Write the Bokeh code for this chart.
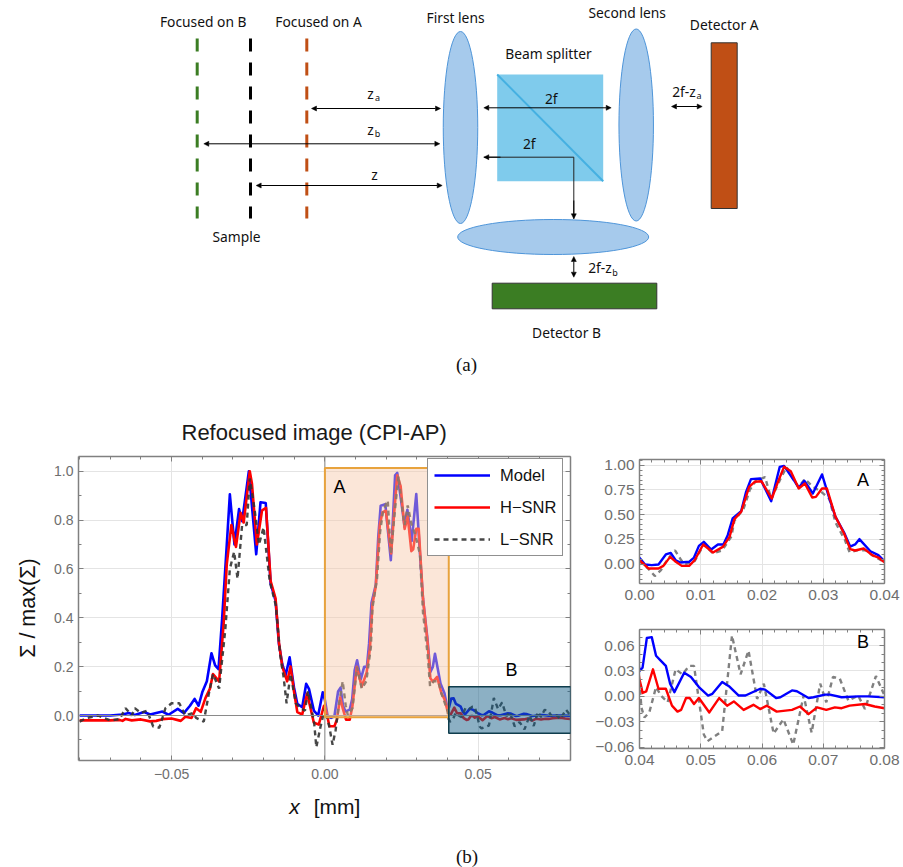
import math
from bokeh.plotting import figure
from bokeh.layouts import column, row
from bokeh.embed import file_html
from bokeh.resources import INLINE
from bokeh.core.properties import value
from bokeh.models import (Arrow, NormalHead, BoxAnnotation, Span, Label, Legend, LegendItem,
                          LinearAxis, FixedTicker, CustomJSTickFormatter)

# ---------- series ----------
model_x = [-0.08,-0.07,-0.066,-0.064,-0.062,-0.059,-0.057,-0.053,-0.051,-0.048,-0.046,-0.044,-0.0425,-0.0412,-0.04,-0.0385,-0.037,-0.0358,-0.0347,-0.0335,-0.032,-0.031,-0.0295,-0.028,-0.027,-0.0248,-0.0224,-0.021,-0.0193,-0.0177,-0.0161,-0.015,-0.0139,-0.0128,-0.0115,-0.0101,-0.009,-0.0074,-0.0061,-0.0052,-0.0036,-0.0022,-0.0007,
    0.0,0.0009,0.002,0.0031,0.0043,0.0051,0.0059,0.0067,0.0081,0.0089,0.0097,0.0105,0.0117,0.0128,0.0137,0.0144,0.0152,0.0166,0.0174,0.0182,0.0197,0.0215,0.0229,0.0236,0.0252,0.026,0.0269,0.0283,0.0298,0.031,0.032,0.0334,0.0344,0.0352,0.0359,0.0377,0.039,0.04,
    0.0405,0.0412,0.042,0.0427,0.0435,0.0443,0.045,0.0457,0.0473,0.0484,0.0497,0.0512,0.0519,0.0535,0.0546,0.0562,0.0573,0.0597,0.0605,0.0623,0.063,0.0649,0.0657,0.0676,0.0684,0.0703,0.0711,0.073,0.0757,0.0773,0.08]
model_y = [0.0,0.0,0.004,0.01,0.002,0.014,0.004,0.016,0.003,0.027,0.01,0.04,0.068,0.04,0.095,0.14,0.255,0.205,0.19,0.4,0.7,0.905,0.7,0.845,0.795,1.0,0.66,0.873,0.87,0.54,0.47,0.293,0.21,0.165,0.238,0.116,0.048,0.034,0.13,0.109,0.02,0.0,0.095,
    0.064,-0.003,-0.01,-0.003,0.098,0.114,0.04,0.017,0.024,0.067,0.185,0.226,0.148,0.199,0.199,0.293,0.461,0.535,0.73,0.859,0.865,0.636,0.983,0.993,0.848,0.771,0.842,0.714,0.906,0.663,0.478,0.32,0.178,0.199,0.253,0.131,0.091,0.03,
    0.034,0.069,0.07,0.048,0.042,0.036,0.015,0.005,0.028,0.023,0.011,0.001,0.003,0.017,0.012,0.001,0.001,0.009,0.008,-0.002,-0.001,0.007,0.006,-0.002,-0.001,0.002,0.002,-0.001,0.0,0.0,-0.001]

hsnr_x = [-0.08,-0.07,-0.067,-0.066,-0.065,-0.063,-0.06,-0.057,-0.055,-0.053,-0.05,-0.047,-0.0455,-0.0435,-0.042,-0.0405,-0.039,-0.0375,-0.0365,-0.0345,-0.033,-0.032,-0.0305,-0.029,-0.0275,-0.0265,-0.0245,-0.0238,-0.0222,-0.0205,-0.0192,-0.0177,-0.0161,-0.015,-0.0139,-0.0123,-0.0112,-0.0101,-0.009,-0.0074,-0.0058,-0.0036,-0.002,-0.0003,
    0.0,0.0015,0.0031,0.0039,0.005,0.0058,0.0069,0.0081,0.009,0.0104,0.012,0.0136,0.0147,0.0155,0.0166,0.0179,0.0188,0.0199,0.0216,0.0225,0.0236,0.0247,0.026,0.027,0.0282,0.0288,0.0298,0.0306,0.032,0.0334,0.0344,0.0352,0.0366,0.038,0.039,0.04,
    0.0403,0.0405,0.0411,0.0422,0.0431,0.0443,0.0453,0.0462,0.0468,0.0476,0.0482,0.0489,0.0497,0.0514,0.053,0.0543,0.0554,0.057,0.0586,0.0597,0.0608,0.0624,0.0649,0.0662,0.0676,0.069,0.0705,0.0719,0.073,0.0743,0.0768,0.0784,0.08]
hsnr_y = [-0.02,-0.02,-0.018,-0.022,-0.014,-0.02,-0.016,-0.024,-0.022,-0.015,-0.012,-0.022,-0.005,-0.01,0.03,0.015,0.07,0.11,0.17,0.14,0.38,0.62,0.78,0.69,0.83,0.79,1.0,0.95,0.7,0.84,0.85,0.55,0.48,0.3,0.2,0.14,0.2,0.1,0.014,0.004,0.09,-0.03,-0.037,0.04,
    0.04,-0.044,-0.044,-0.017,0.074,0.03,-0.017,-0.017,0.04,0.199,0.118,0.175,0.276,0.455,0.529,0.781,0.832,0.838,0.663,0.815,0.983,0.939,0.764,0.815,0.673,0.68,0.764,0.764,0.478,0.31,0.152,0.138,0.158,0.091,0.067,0.02,
    0.011,0.004,0.006,0.032,0.009,0.009,-0.011,-0.018,-0.016,-0.002,-0.002,-0.009,-0.002,-0.019,-0.002,-0.011,-0.006,-0.016,-0.01,-0.015,-0.011,-0.018,-0.016,-0.012,-0.021,-0.013,-0.016,-0.013,-0.014,-0.011,-0.009,-0.012,-0.014]

lsnr_x = [-0.08,-0.078,-0.074,-0.07,-0.067,-0.065,-0.063,-0.062,-0.06,-0.058,-0.056,-0.054,-0.052,-0.05,-0.0475,-0.0455,-0.043,-0.042,-0.0395,-0.038,-0.0365,-0.0345,-0.0325,-0.031,-0.0296,-0.0285,-0.027,-0.0255,-0.0245,-0.023,-0.0215,-0.02,-0.018,-0.016,-0.0145,-0.0135,-0.0125,-0.0112,-0.0095,-0.008,-0.0065,-0.0055,-0.0035,-0.0028,-0.0015,
    0.0,0.0015,0.0025,0.0035,0.0045,0.0058,0.0068,0.0075,0.009,0.0105,0.012,0.0135,0.015,0.0155,0.017,0.018,0.019,0.0205,0.0215,0.023,0.024,0.0255,0.026,0.027,0.0283,0.0295,0.031,0.032,0.0335,0.0343,0.0355,0.037,0.038,0.04,
    0.0403,0.0408,0.0416,0.0427,0.0435,0.0446,0.0459,0.047,0.0481,0.0489,0.0505,0.0511,0.0535,0.0551,0.0565,0.0578,0.0592,0.0603,0.0619,0.0635,0.0651,0.0668,0.0681,0.0695,0.0705,0.0716,0.0727,0.0741,0.0757,0.0768,0.0786,0.08]
lsnr_y = [-0.025,-0.012,0.0,-0.02,-0.015,0.03,0.0,0.03,0.01,0.02,-0.045,-0.05,0.03,0.05,0.05,0.0,0.01,-0.01,-0.025,0.08,0.17,0.11,0.35,0.6,0.67,0.56,0.78,0.78,0.97,0.85,0.7,0.77,0.55,0.45,0.24,0.16,0.05,0.17,0.05,0.03,0.02,0.1,-0.03,-0.13,-0.05,
    0.03,-0.05,-0.12,-0.06,0.04,0.14,0.04,0.0,0.03,0.2,0.11,0.14,0.28,0.44,0.56,0.75,0.84,0.88,0.66,0.86,0.98,0.82,0.78,0.86,0.78,0.74,0.66,0.42,0.25,0.12,0.14,0.14,0.09,0.019,
    -0.013,-0.025,-0.019,0.011,0.001,-0.007,0.032,0.026,0.036,0.036,-0.045,-0.053,-0.041,0.072,0.026,0.054,-0.003,0.015,-0.044,-0.027,-0.057,0.001,-0.043,0.015,-0.007,0.023,0.021,-0.005,0.001,-0.015,0.024,0.001]

series_names = ["Model", "H\u2212SNR", "L\u2212SNR"]

# ---------- ticks ----------
main_x_major = [-0.05, 0.0, 0.05]
main_x_labels = ["\u22120.05", "0.00", "0.05"]
main_x_minor = [-0.08,-0.07,-0.06,-0.04,-0.03,-0.02,-0.01,0.01,0.02,0.03,0.04,0.06,0.07,0.08]
main_y_major = [0.0, 0.2, 0.4, 0.6, 0.8, 1.0]
main_y_labels = ["0.0", "0.2", "0.4", "0.6", "0.8", "1.0"]
main_y_minor = [-0.1, 0.1, 0.3, 0.5, 0.7, 0.9]

a_x_major = [0.0, 0.01, 0.02, 0.03, 0.04]
a_x_labels = ["0.00", "0.01", "0.02", "0.03", "0.04"]
a_y_major = [0.0, 0.25, 0.5, 0.75, 1.0]
a_y_labels = ["0.00", "0.25", "0.50", "0.75", "1.00"]
b_x_major = [0.04, 0.05, 0.06, 0.07, 0.08]
b_x_labels = ["0.04", "0.05", "0.06", "0.07", "0.08"]
b_y_major = [-0.06, -0.03, 0.0, 0.03, 0.06]
b_y_labels = ["\u22120.06", "\u22120.03", "0.00", "0.03", "0.06"]

a_x_minor = [round(i * 0.002, 3) for i in range(21)]
a_y_minor = [round(-0.15 + i * 0.05, 2) for i in range(25)]
b_x_minor = [round(0.04 + i * 0.002, 3) for i in range(21)]
b_y_minor = [round(-0.06 + i * 0.01, 2) for i in range(14)]

FRAME = "#808080"
TICKTXT = "#6e6e6e"
SANS = "Liberation Sans"
DIAG = "Noto Sans"


def dress(p, xm, xl, xmin, ym, yl, ymin, size, xstand=6, ystand=5):
    bottom, left = p.below[0], p.left[0]
    for ax, maj, lab, mnr in ((bottom, xm, xl, xmin), (left, ym, yl, ymin)):
        ax.ticker = FixedTicker(ticks=maj, minor_ticks=mnr)
        ax.major_label_overrides = {float(m): t for m, t in zip(maj, lab)}
        ax.major_label_text_font = SANS
        ax.major_label_text_font_size = size
        ax.major_label_text_color = TICKTXT
    top = LinearAxis(ticker=FixedTicker(ticks=xm, minor_ticks=xmin),
                     formatter=CustomJSTickFormatter(code="return ''"))
    right = LinearAxis(ticker=FixedTicker(ticks=ym, minor_ticks=ymin),
                       formatter=CustomJSTickFormatter(code="return ''"))
    p.add_layout(top, "above")
    p.add_layout(right, "right")
    for ax in (bottom, left, top, right):
        ax.axis_line_color = FRAME
        ax.axis_line_width = 1.5
        ax.major_tick_line_color = FRAME
        ax.minor_tick_line_color = FRAME
        ax.major_tick_in = 5
        ax.major_tick_out = 0
        ax.minor_tick_in = 3
        ax.minor_tick_out = 0
    bottom.major_label_standoff = xstand
    left.major_label_standoff = ystand
    p.xgrid.ticker = FixedTicker(ticks=xm)
    p.ygrid.ticker = FixedTicker(ticks=ym)
    p.grid.grid_line_color = "#e4e4e4"
    p.grid.grid_line_width = 1
    p.outline_line_color = None


def blank(w, h, xr, yr):
    f = figure(width=w, height=h, x_range=xr, y_range=yr, min_border=0,
               toolbar_location=None, output_backend="svg")
    f.axis.visible = False
    f.grid.visible = False
    f.outline_line_color = None
    return f


def put(f, x, y, s, size=13.8, align="center", font=DIAG, style="normal", angle=0, color="#111111"):
    f.text(x=[x], y=[y], text=[s], text_font=value(font), text_font_size=f"{size}px", text_color=color,
           text_align=align, text_baseline="middle", text_font_style=style, angle=angle)


# ---------- schematic (a), coordinates are page pixels ----------
d = blank(903, 393, (0, 903), (393, 0))

for px, col in ((196.7, "#3B7D23"), (250, "#000000"), (306.3, "#C04F15")):
    d.line([px, px], [38, 218], line_color=col, line_width=3, line_dash="13 11")

LENS_FILL, LENS_LINE = "#A6CAEC", "#4E95D9"
d.ellipse(x=[460, 635.7, 552.7], y=[127, 124.5, 236.5], width=[34.5, 34.5, 191], height=[192, 192, 35],
          fill_color=LENS_FILL, line_color=LENS_LINE, line_width=1)
d.quad(left=[496.7], right=[602.7], top=[74], bottom=[180.7], fill_color="#7FCBEC", line_color=None)
d.line([496.7, 602.7], [74, 180.7], line_color="#45B0E1", line_width=2)
d.quad(left=[710.7], right=[736.7], top=[42.3], bottom=[208], fill_color="#C04F15", line_color="#333333", line_width=1)
d.quad(left=[491.7], right=[656.3], top=[282.7], bottom=[308.3], fill_color="#3B7D23", line_color="#333333", line_width=1)


def head():
    return NormalHead(size=5, fill_color="black", line_color="black", line_width=0.5)


for x0, y0, x1, y1 in ((311, 108, 440, 108), (203.3, 143.3, 439.3, 143.3), (255.7, 185, 441.7, 185),
                       (483.3, 107.3, 610.7, 107.3), (671, 106, 701.7, 106), (573.3, 256, 573.3, 276.7)):
    d.add_layout(Arrow(start=head(), end=head(), x_start=x0, y_start=y0, x_end=x1, y_end=y1,
                       line_color="black", line_width=1))
d.line([483.3, 573.3, 573.3], [156.7, 156.7, 218.3], line_color="#222222", line_width=1)
d.add_layout(Arrow(end=head(), x_start=500, y_start=156.7, x_end=483.3, y_end=156.7, line_color="black", line_width=1))
d.add_layout(Arrow(end=head(), x_start=573.3, y_start=200, x_end=573.3, y_end=218.3, line_color="black", line_width=1))

put(d, 202.7, 20.7, "Focused on B")
put(d, 318, 20.7, "Focused on A")
put(d, 236, 236, "Sample")
put(d, 455, 16.7, "First lens")
put(d, 626.7, 12.3, "Second lens")
put(d, 723.7, 23.7, "Detector A")
put(d, 548, 53.3, "Beam splitter")
put(d, 566, 331.7, "Detector B")
put(d, 550.7, 97.7, "2f")
put(d, 528.7, 143.3, "2f")
put(d, 374, 174, "z")
put(d, 370, 92.5, "z")
put(d, 377, 96.5, "a", 9)
put(d, 370, 128.5, "z")
put(d, 377, 132.5, "b", 9)
put(d, 671.7, 90.7, "2f-z", align="left")
put(d, 696, 95, "a", 9, align="left")
put(d, 587.7, 267, "2f-z", align="left")
put(d, 611.7, 271.5, "b", 9, align="left")
put(d, 466, 364, "(a)", 19, font="Liberation Serif")

# ---------- main plot (b) ----------
PX0, PXU, PY0, PYU = 324.4, 3066.0, 715.0, 244.3
def dx(px): return (px - PX0) / PXU
def dy(py): return (PY0 - py) / PYU

ystrip = blank(48, 397, (0, 48), (790, 393))
put(ystrip, 27, 591, "\u03a3 / max(\u03a3)", 21.5, font=SANS, angle=math.pi / 2)

m = figure(width=542, height=397, x_range=(dx(78), dx(570)), y_range=(dy(760), dy(456)),
           min_border_left=30, min_border_right=20, min_border_top=63, min_border_bottom=30,
           toolbar_location=None, output_backend="svg",
           title="Refocused image (CPI-AP)")
m.title.text_font = SANS
m.title.text_font_style = "normal"
m.title.text_font_size = "22px"
m.title.text_color = "#1a1a1a"
m.title.align = "left"
m.title.offset = 103
m.title.standoff = 23
dress(m, main_x_major, main_x_labels, main_x_minor, main_y_major, main_y_labels, main_y_minor, "14px", xstand=8, ystand=5)
m.add_layout(Span(location=0, dimension="width", line_color="#8a8a8a", line_width=1))
m.add_layout(Span(location=0, dimension="height", line_color="#8a8a8a", line_width=1))

r1 = m.line(model_x, model_y, line_color="#0000FF", line_width=2.6, line_join="round")
r2 = m.line(hsnr_x, hsnr_y, line_color="#FF0000", line_width=2.6, line_join="round")
r3 = m.line(lsnr_x, lsnr_y, line_color="#333333", line_width=2.4, line_dash="5 4", line_alpha=0.9)

leg = Legend(items=[LegendItem(label=series_names[0], renderers=[r1]),
                    LegendItem(label=series_names[1], renderers=[r2]),
                    LegendItem(label=series_names[2], renderers=[r3])],
             location=(349, 204), padding=6, margin=0, spacing=12, glyph_width=56, glyph_height=20,
             label_height=20, label_standoff=10, label_text_font=SANS, label_text_font_size="16.5px",
             label_text_color="#111111", border_line_color="#222222", border_line_width=1.5,
             background_fill_color="white", background_fill_alpha=1)
m.add_layout(leg)

m.add_layout(BoxAnnotation(left=0, right=0.0404, bottom=-0.007, top=1.013, fill_color="#F6C8A8", fill_alpha=0.45,
                           line_color="#E8A33D", line_alpha=1, line_width=2, level="overlay"))
m.add_layout(BoxAnnotation(left=0.0404, right=dx(570.5), bottom=-0.073, top=0.118, fill_color="#196289", fill_alpha=0.5,
                           line_color="#0f3d4d", line_alpha=1, line_width=1.5, level="overlay"))

for px, py, s in ((339, 486, "A"), (511, 669, "B")):
    m.add_layout(Label(x=dx(px), y=dy(py), text=s, text_font=SANS, text_font_size="18px", text_color="#000000",
                       text_align="center", text_baseline="middle", level="overlay"))

# ---------- zoom panels ----------
a = figure(width=313, height=227, x_range=(0.0, 0.04), y_range=(-0.195, 1.057),
           min_border_left=49, min_border_right=17, min_border_top=66, min_border_bottom=37,
           toolbar_location=None, output_backend="svg")
dress(a, a_x_major, a_x_labels, a_x_minor, a_y_major, a_y_labels, a_y_minor, "15.5px")
b = figure(width=313, height=170, x_range=(0.04, 0.08), y_range=(-0.0616, 0.079),
           min_border_left=47, min_border_right=19, min_border_top=9, min_border_bottom=42,
           toolbar_location=None, output_backend="svg")
dress(b, b_x_major, b_x_labels, b_x_minor, b_y_major, b_y_labels, b_y_minor, "15.5px")
for p in (a, b):
    p.line(lsnr_x, lsnr_y, line_color="#808080", line_width=2.4, line_dash="5 4")
    p.line(model_x, model_y, line_color="#0000FF", line_width=2.4, line_join="round")
    p.line(hsnr_x, hsnr_y, line_color="#FF0000", line_width=2.4, line_join="round")
a.add_layout(Label(x=0.0365, y=0.85, text="A", text_font=SANS, text_font_size="18px", text_color="#000000",
                   text_align="center", text_baseline="middle"))
b.add_layout(Label(x=0.0765, y=0.0645, text="B", text_font=SANS, text_font_size="18px", text_color="#000000",
                   text_align="center", text_baseline="middle"))

# ---------- bottom strip: x label and caption ----------
s = blank(903, 77, (0, 903), (867, 790))
put(s, 294, 806, "x", 21, font=SANS, style="italic")
put(s, 336.5, 806, "[mm]", 21, font=SANS)
put(s, 466.5, 856, "(b)", 19, font="Liberation Serif")

page = column(d, row(ystrip, m, column(a, b)), s)
open("out.html", "w").write(file_html(page, INLINE))
